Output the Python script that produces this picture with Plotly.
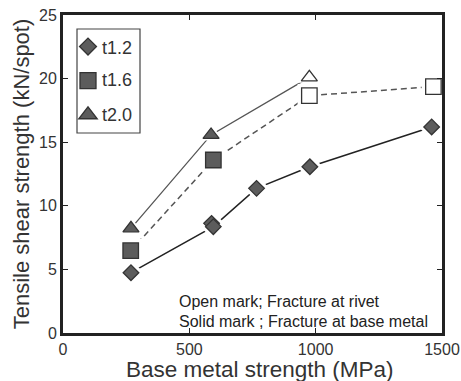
import plotly.graph_objects as go

# t1.2 (diamonds)
x12 = [269, 588, 595, 766, 977, 1459]
y12 = [4.74, 8.62, 8.36, 11.37, 13.07, 16.2]
open12 = [False, False, False, False, False, False]
# t1.6 (squares)
x16 = [268, 595, 975, 1466]
y16 = [6.47, 13.6, 18.66, 19.37]
open16 = [False, False, True, True]
# t2.0 (triangles)
x20 = [269, 586, 975]
y20 = [8.23, 15.57, 20.1]
open20 = [False, False, True]

series_names = ["t1.2", "t1.6", "t2.0"]
note_lines = ["Open mark; Fracture at rivet", "Solid mark ; Fracture at base metal"]
x_title = "Base metal strength (MPa)"
y_title = "Tensile shear strength (kN/spot)"
x_ticks = [0, 500, 1000, 1500]
y_ticks = [0, 5, 10, 15, 20, 25]

# line path for t1.2 passes through the lower of the two ~590 points
line12_idx = [0, 2, 3, 4, 5]

FILL = "#5c5c5c"
EDGE = "#333333"
FONT = "Liberation Sans, Arial, sans-serif"

fig = go.Figure()

series = [
    (series_names[0], x12, y12, open12, "diamond", 12, 13, dict(color="#222222", width=1.5), line12_idx),
    (series_names[1], x16, y16, open16, "square", 15.5, 16, dict(color="#555555", width=1.5, dash="6px,4px"), None),
    (series_names[2], x20, y20, open20, "triangle-up", 14, 16, dict(color="#555555", width=1.3), None),
]

for name, xs, ys, opens, sym, size, lsize, line, idx in series:
    lx = [xs[i] for i in idx] if idx else xs
    ly = [ys[i] for i in idx] if idx else ys
    fig.add_trace(go.Scatter(x=lx, y=ly, mode="lines", line=line,
                             showlegend=False, hoverinfo="skip"))
for name, xs, ys, opens, sym, size, lsize, line, idx in series:
    fig.add_trace(go.Scatter(x=xs, y=ys, mode="markers",
                             marker=dict(symbol=sym, size=size + 8, color="white",
                                         line=dict(width=0)),
                             showlegend=False, hoverinfo="skip"))
for name, xs, ys, opens, sym, size, lsize, line, idx in series:
    fig.add_trace(go.Scatter(x=xs, y=ys, mode="markers", name=name,
                             showlegend=False, hovertext=name, hoverinfo="x+y+text",
                             marker=dict(symbol=sym, size=size,
                                         color=["white" if o else FILL for o in opens],
                                         line=dict(color=EDGE, width=1.3))))
for name, xs, ys, opens, sym, size, lsize, line, idx in series:
    # legend-only entry (label drawn as an annotation to sit close to the marker)
    fig.add_trace(go.Scatter(x=[None], y=[None], mode="markers", name="\u00a0",
                             legendgroup=name,
                             marker=dict(symbol=sym, size=lsize, color=FILL,
                                         line=dict(color=EDGE, width=1.3))))

axis_common = dict(
    showline=True, linewidth=3, linecolor="#222222", mirror="ticks",
    ticks="inside", ticklen=5, tickwidth=1, tickcolor="#222222",
    showgrid=False, zeroline=False, automargin=False,
    tickfont=dict(family=FONT, size=16, color="#333333"),
)

W, H = 461, 381
ML, MR, MT, MB = 63, 19, 15, 48
PW, PH = W - ML - MR, H - MT - MB


def px(xp):
    return (xp - ML) / PW


def py(yp):
    return (H - MB - yp) / PH


fig.update_layout(
    width=W, height=H,
    margin=dict(l=ML, r=MR, t=MT, b=MB),
    paper_bgcolor="white", plot_bgcolor="white",
    font=dict(family=FONT, color="#333333"),
    xaxis=dict(range=[0, 1500], tickvals=x_ticks, **axis_common),
    yaxis=dict(range=[0, 25], tickvals=y_ticks,
               title=dict(text=y_title, standoff=4,
                          font=dict(size=22, color="#333333")),
               **axis_common),
    legend=dict(x=px(68), y=py(29), xanchor="left", yanchor="top",
                borderwidth=0, bgcolor="rgba(0,0,0,0)",
                font=dict(size=17, color="#333333"),
                traceorder="grouped", tracegroupgap=9, itemwidth=30,
                itemsizing="trace"),
    shapes=[dict(type="rect", xref="paper", yref="paper",
                 x0=px(77), x1=px(140), y0=py(133), y1=py(29),
                 line=dict(color="#444444", width=1.2), fillcolor="rgba(0,0,0,0)",
                 layer="above")],
)

fig.add_annotation(x=px(260), y=py(369), xref="paper", yref="paper",
                   xanchor="center", yanchor="middle", showarrow=False,
                   text=x_title, font=dict(size=22.5, color="#333333"))

for nm, ycen in zip(series_names, [48, 80, 115]):
    fig.add_annotation(x=px(100), y=py(ycen), xref="paper", yref="paper",
                       xanchor="left", yanchor="middle", showarrow=False,
                       text=nm, font=dict(size=18, color="#333333"))

for txt, ycen in zip(note_lines, [301, 321]):
    fig.add_annotation(x=px(177), y=py(ycen), xref="paper", yref="paper",
                       xanchor="left", yanchor="middle", showarrow=False,
                       text=txt, font=dict(size=16, color="#222222"))

fig.write_html("out.html", config={"displayModeBar": False},
               post_script="document.body.style.margin='0';document.body.style.overflow='hidden';")
